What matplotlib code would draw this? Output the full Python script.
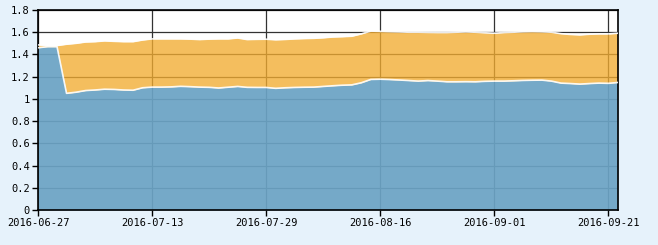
import matplotlib.pyplot as plt
import numpy as np
from matplotlib.ticker import FuncFormatter

# lower (blue) series and stacked total, one value per trading day
blue = [1.46, 1.47, 1.47, 1.05, 1.06, 1.075, 1.08, 1.087, 1.085, 1.08,
        1.078, 1.10, 1.106, 1.106, 1.108, 1.113, 1.11, 1.106, 1.104, 1.098,
        1.105, 1.112, 1.104, 1.103, 1.103, 1.095, 1.10, 1.103, 1.105, 1.106,
        1.112, 1.118, 1.123, 1.126, 1.145, 1.175, 1.177, 1.174, 1.170, 1.165,
        1.160, 1.165, 1.16, 1.154, 1.154, 1.155, 1.154, 1.158, 1.16, 1.16,
        1.163, 1.166, 1.168, 1.169, 1.160, 1.142, 1.138, 1.133, 1.138, 1.142,
        1.140, 1.148]
total = [1.486, 1.48, 1.48, 1.492, 1.50, 1.512, 1.515, 1.522, 1.518, 1.515,
         1.515, 1.53, 1.54, 1.54, 1.54, 1.54, 1.538, 1.534, 1.538, 1.54,
         1.54, 1.548, 1.534, 1.536, 1.537, 1.532, 1.535, 1.54, 1.543, 1.545,
         1.55, 1.557, 1.56, 1.564, 1.585, 1.61, 1.608, 1.605, 1.603, 1.60,
         1.60, 1.598, 1.597, 1.597, 1.60, 1.603, 1.60, 1.595, 1.591, 1.597,
         1.60, 1.604, 1.606, 1.604, 1.60, 1.587, 1.58, 1.576, 1.582, 1.585,
         1.585, 1.591]
orange = [t - b for t, b in zip(total, blue)]

tick_pos = [0, 12, 24, 36, 48, 60]
tick_labels = ['2016-06-27', '2016-07-13', '2016-07-29',
               '2016-08-16', '2016-09-01', '2016-09-21']

x = np.arange(len(blue))
lo = np.array(blue)
hi = lo + np.array(orange)

fig = plt.figure(figsize=(6.58, 2.45), dpi=100, facecolor='#e6f2fb')
ax = fig.add_axes([38/658, 35/245, 580/658, 200/245])
ax.set_facecolor('white')

ax.grid(True, color='#333333', linewidth=0.9, zorder=0)
ax.set_axisbelow(True)

ax.fill_between(x, 0, lo, color='#6ba3c4', alpha=0.93, linewidth=0, zorder=2)
ax.fill_between(x, lo, hi, color='#f2ac31', alpha=0.78, linewidth=0, zorder=2)
ax.plot(x, lo, color='white', linewidth=1.2, alpha=0.9, zorder=3)
ax.plot(x, hi, color='white', linewidth=1.2, alpha=0.9, zorder=3)

ax.set_xlim(0, len(blue) - 1)
ax.set_ylim(0, 1.8)
ax.set_yticks(np.arange(0, 1.81, 0.2))
ax.yaxis.set_major_formatter(FuncFormatter(lambda v, p: '%g' % round(v, 1)))
ax.set_xticks(tick_pos)
ax.set_xticklabels(tick_labels)

for s in ax.spines.values():
    s.set_color('black')
    s.set_linewidth(1.2)
ax.tick_params(direction='out', length=4, width=1, color='black',
               labelsize=7.5, pad=2)
for lab in ax.get_xticklabels() + ax.get_yticklabels():
    lab.set_family('DejaVu Sans Mono')

fig.savefig('out.png', dpi=100, facecolor=fig.get_facecolor())
